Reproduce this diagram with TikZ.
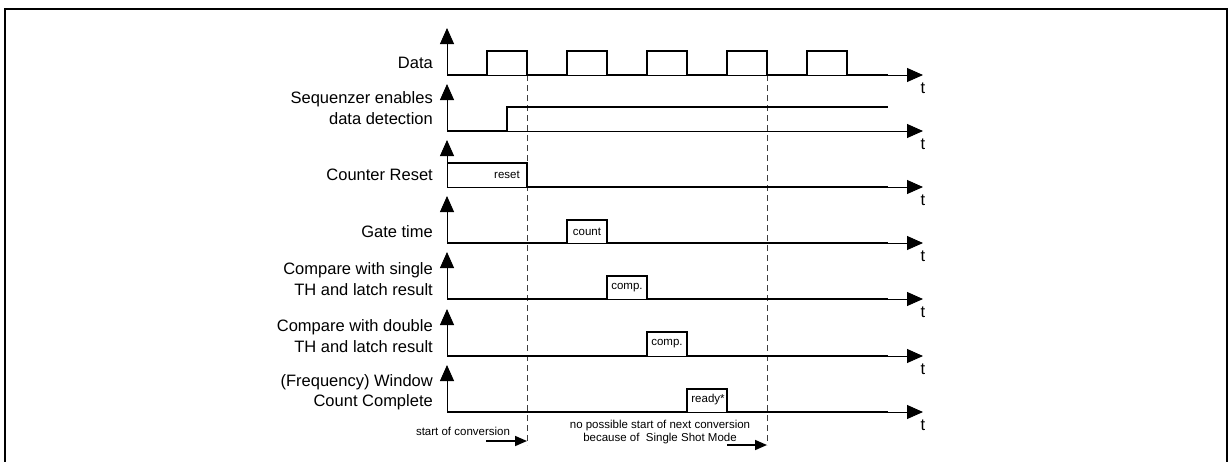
\documentclass[tikz,border=0pt]{standalone}
\usepackage{fontspec}
\setmainfont{Liberation Sans}
\usetikzlibrary{arrows.meta,positioning}

\tikzset{
  sig/.style={line width=1.9pt,line join=miter},
  axisln/.style={line width=0.9pt,-{Triangle[length=16pt,width=14pt]}},
  signame/.style={anchor=east,align=right,inner sep=0pt,font=\fontsize{16.5}{20.5}\selectfont},
  tlab/.style={inner sep=0pt,font=\fontsize{16.5}{20}\selectfont},
  tag/.style={inner sep=0pt,align=center,font=\fontsize{11.5}{12.5}\selectfont},
  marker/.style={line width=0.8pt,black!75,dash pattern=on 6pt off 4pt},
  hint/.style={line width=1.6pt,-{Triangle[length=12pt,width=10pt]}},
}

\begin{document}
\begin{tikzpicture}[x=1pt,y=-1pt]
\useasboundingbox (0,0) rectangle (1231,461);
% frame, open at the bottom
\draw[line width=1.4pt] (5,470) |- (1227,9) -- (1227,470);

% axes and signal names
\foreach \y/\n/\ly/\txt in {75/data/63/Data,
    131/seq/108/{Sequenzer enables\\data detection},
    187/reset/175/Counter Reset,
    243/gate/232/Gate time,
    299/single/279/{Compare with single\\TH and latch result},
    356/double/336/{Compare with double\\TH and latch result},
    412/window/392/{(Frequency) Window\\Count Complete}}{
  \coordinate (o-\n) at (447,\y);
  \draw[axisln] (o-\n) -- ++(0,-47);
  \draw[axisln] (o-\n) -- ++(476,0);
  \node[tlab] (t-\n) at (923,\y+13) {t};
  \node[signame] (name-\n) at (433,\ly) {\txt};
}

% markers
\draw[marker] (527,75) -- (527,445);
\draw[marker] (767,75) -- (767,445);

% signals
\draw[sig] (o-data) foreach \x in {487,567,647,727,807} {
    -- (\x,75) -- (\x,51) -- (\x+40,51) -- (\x+40,75) } -- (888,75);
\draw[sig] (o-seq) -- (507,131) -- (507,107) -- (888,107);
\draw[sig] (447,163) -- (527,163) -- (527,187) -- (888,187);
\draw[sig] (o-gate) -- (567,243) |- (607,220) |- (888,243);
\draw[sig] (o-single) -- (607,299) |- (647,276) |- (888,299);
\draw[sig] (o-double) -- (647,356) |- (687,332) |- (888,356);
\draw[sig] (o-window) -- (687,412) |- (727,389) |- (888,412);

\node[tag] (reset) at (507,175) {reset};
\node[tag] (count) at (587,232) {count};
\node[tag] (comp1) at (627,288) {comp.};
\node[tag] (comp2) at (667,344) {comp.};
\node[tag] (ready) at (708,400) {ready*};

% notes below
\node[tag] (soc) at (463,431) {start of conversion};
\coordinate (soc-a) at (486,441);
\coordinate (soc-b) at (527,441);
\draw[hint] (soc-a) -- (soc-b);
\node[tag] (nps) at (660,432) {no possible start of next conversion\\because of\ \ Single Shot Mode};
\coordinate (nps-a) at (727,445);
\coordinate (nps-b) at (767,445);
\draw[hint] (nps-a) -- (nps-b);
\end{tikzpicture}
\end{document}
